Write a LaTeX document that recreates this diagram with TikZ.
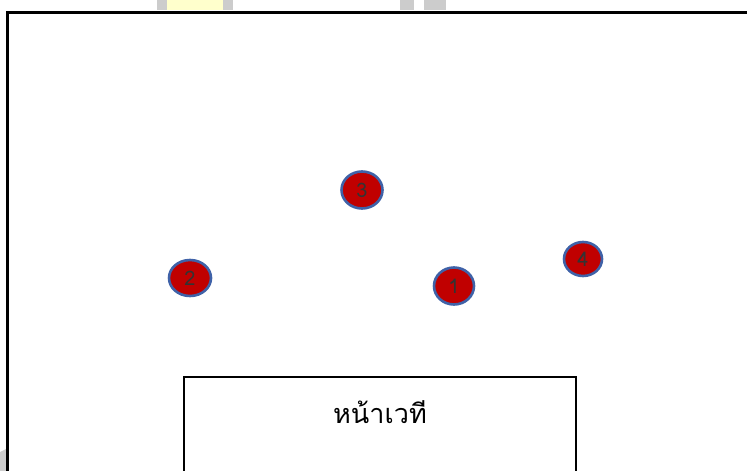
\documentclass[tikz,border=0pt]{standalone}
\usetikzlibrary{shapes.geometric}
\usepackage{fontspec}
\newfontfamily\thaifont[Script=Thai]{Loma}
\setmainfont{Liberation Sans}
\definecolor{seatred}{HTML}{C00000}
\definecolor{seatblue}{HTML}{3F62A8}
\definecolor{wmgray}{HTML}{CCCCCC}
\definecolor{wmyellow}{HTML}{FFFFCC}
\begin{document}
\begin{tikzpicture}[x=1pt,y=-1pt,
  seat/.style={ellipse, draw=seatblue, line width=2.6pt, fill=seatred, inner sep=0pt, font=\thaifont\fontsize{20}{20}\selectfont, text=black!80},
  frame/.style={draw=black, line width=3pt}]
\useasboundingbox (0,0) rectangle (747,471);
% faint background watermark pieces
\fill[wmgray] (157,0) rectangle (167,10);
\fill[wmyellow] (167,0) rectangle (223,10);
\fill[wmgray] (223,0) rectangle (233,10);
\fill[wmgray] (400,0) rectangle (414,10);
\fill[wmgray] (424,0) rectangle (446,10);
\fill[wmgray] (0,452) -- (6,449) -- (6,471) -- (0,471) -- cycle;
% outer frame
\draw[frame] (7.5,480) -- (7.5,12) -- (760,12);
% stage
\draw[frame, line width=2.6pt] (184,480) -- (184,377) -- (576,377) -- (576,480);
\node[font=\thaifont\fontsize{27}{27}\selectfont] (stage) at (380,412) {หน้าเวที};
% seats
\node[seat, minimum width=41pt, minimum height=37pt] (s3) at (362,190) {3};
\node[seat, minimum width=42pt, minimum height=36pt] (s2) at (190,278) {2};
\node[seat, minimum width=40pt, minimum height=37pt] (s1) at (454,286) {1};
\node[seat, minimum width=38pt, minimum height=34pt] (s4) at (583,259) {4};
\end{tikzpicture}
\end{document}
